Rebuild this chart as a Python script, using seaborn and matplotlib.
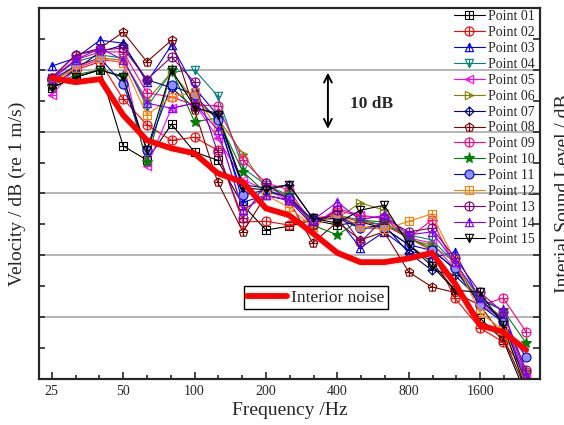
import numpy as np
import matplotlib
matplotlib.use("Agg")
import matplotlib.pyplot as plt
import seaborn as sns
from matplotlib.path import Path
from matplotlib.markers import MarkerStyle
from matplotlib.ticker import FixedLocator, NullFormatter, MultipleLocator
from matplotlib.lines import Line2D

# ---------------- data ----------------
freqs = [25, 31.5, 40, 50, 63, 80, 100, 125, 160, 200, 250, 315, 400, 500,
         630, 800, 1000, 1250, 1600, 2000, 2500]
tick_freqs = [25, 50, 100, 200, 400, 800, 1600]
tick_labels = ["25", "50", "100", "200", "400", "800", "1600"]

point_01 = [67.1, 68.8, 70.0, 57.7, 55.4, 61.2, 56.7, 55.4, 48.1, 44.1, 44.7, 45.7, 44.9, 45.4, 44.4, 41.7, 38.9, 34.4, 29.8, 26.3, 17.4]
point_02 = [68.4, 70.0, 71.3, 65.3, 61.1, 58.6, 59.1, 57.0, 45.4, 45.5, 44.9, 46.0, 46.5, 45.4, 44.9, 42.8, 40.8, 33.1, 28.2, 26.0, 21.1]
point_03 = [70.6, 71.9, 74.8, 74.3, 68.0, 74.0, 67.1, 62.7, 48.6, 49.7, 48.9, 45.7, 46.0, 41.2, 43.8, 40.8, 39.6, 40.5, 32.8, 29.8, 20.1]
point_04 = [68.7, 71.3, 72.4, 71.9, 64.0, 69.6, 70.0, 65.8, 54.1, 51.4, 49.7, 45.4, 46.5, 45.7, 44.9, 43.3, 42.5, 38.9, 31.9, 29.8, 19.5]
point_05 = [65.9, 70.3, 71.6, 71.3, 54.4, 63.8, 64.6, 59.0, 52.2, 50.6, 48.9, 44.9, 47.6, 46.5, 46.0, 42.8, 42.0, 37.9, 32.4, 29.5, 20.1]
point_06 = [68.0, 70.6, 71.9, 71.6, 65.1, 69.6, 65.1, 62.2, 56.4, 50.9, 49.7, 45.7, 46.0, 48.5, 47.3, 42.5, 41.7, 38.9, 32.8, 29.8, 21.1]
point_07 = [67.5, 70.0, 72.9, 74.0, 68.4, 67.1, 63.8, 63.0, 51.4, 50.9, 51.4, 46.0, 46.0, 44.4, 44.9, 40.4, 37.6, 36.8, 32.8, 29.5, 19.0]
point_08 = [68.7, 72.4, 73.5, 76.1, 71.3, 74.8, 63.5, 51.9, 43.8, 49.7, 48.9, 42.0, 45.4, 42.5, 43.8, 37.3, 34.9, 34.0, 31.9, 26.8, 18.2]
point_09 = [68.7, 71.6, 72.9, 72.9, 66.3, 65.6, 64.3, 64.2, 55.4, 51.7, 50.6, 44.9, 47.3, 46.3, 46.0, 42.8, 45.7, 38.4, 31.9, 33.1, 27.6]
point_10 = [67.4, 69.2, 70.0, 69.0, 55.1, 70.0, 61.6, 62.2, 53.5, 50.1, 49.7, 44.9, 43.3, 45.7, 45.4, 42.8, 41.2, 37.6, 32.8, 31.1, 25.8]
point_11 = [68.4, 70.6, 71.9, 67.7, 57.0, 67.5, 65.9, 61.9, 49.7, 50.6, 49.3, 45.7, 46.5, 44.4, 44.4, 41.7, 40.8, 37.9, 31.9, 29.2, 23.5]
point_12 = [68.0, 70.3, 71.9, 71.1, 62.7, 65.6, 66.4, 60.3, 47.3, 49.7, 47.8, 44.6, 46.8, 44.6, 44.2, 45.5, 46.7, 39.2, 30.7, 27.9, 19.0]
point_13 = [68.7, 72.4, 73.2, 73.5, 68.4, 72.1, 68.0, 56.7, 46.0, 51.7, 48.9, 44.9, 47.3, 42.1, 46.0, 43.8, 44.4, 39.6, 34.0, 30.8, 21.4]
point_14 = [68.4, 71.6, 73.5, 71.6, 64.6, 63.8, 64.6, 60.3, 47.3, 49.7, 48.9, 45.7, 48.6, 45.7, 46.5, 43.3, 43.8, 38.9, 33.1, 31.1, 20.6]
point_15 = [67.1, 68.8, 70.0, 68.8, 57.0, 70.0, 64.0, 62.7, 50.9, 50.6, 51.4, 46.0, 45.2, 47.3, 48.1, 41.7, 38.3, 34.4, 34.0, 28.7, 18.2]
interior_noise = [68.7, 68.0, 68.5, 62.7, 58.6, 57.3, 56.5, 53.3, 51.8, 47.6, 46.5, 43.6, 40.4, 38.9, 38.9, 39.5, 40.4, 35.5, 28.7, 27.6, 24.7]

point_labels = ["Point %02d" % i for i in range(1, 16)]
point_values = [point_01, point_02, point_03, point_04, point_05, point_06, point_07,
                point_08, point_09, point_10, point_11, point_12, point_13, point_14, point_15]
point_colors = ["#000000", "#ff0000", "#0000ff", "#008080", "#ff00ff", "#808000", "#000080",
                "#800000", "#ff0080", "#008000", "#0000cc", "#ff8000", "#800080", "#8000ff", "#000000"]
point_markers = ["s", "o", "^", "v", "<", ">", "D", "p", "o", "*", "o", "s", "o", "^", "v"]
point_crossed = [True, True, True, True, True, True, True, True, True, False, False, True, True, True, True]

# ---------------- style ----------------
sns.set_style("ticks")
plt.rcParams["font.family"] = ["Liberation Serif", "DejaVu Serif"]


def crossed_marker(base):
    ms = MarkerStyle(base)
    p = ms.get_path().transformed(ms.get_transform())
    v = p.vertices
    xmin, xmax = v[:, 0].min(), v[:, 0].max()
    ymin, ymax = v[:, 1].min(), v[:, 1].max()
    hx0, hx1, vy0, vy1 = xmin, xmax, ymin, ymax
    if base in ("^", "v"):
        hx0, hx1 = -0.25, 0.25
    if base in ("<", ">"):
        vy0, vy1 = -0.25, 0.25
    plus = Path([(0, vy0), (0, vy1), (hx0, 0), (hx1, 0)],
                [Path.MOVETO, Path.LINETO, Path.MOVETO, Path.LINETO])
    return Path.make_compound_path(p, plus)


fig = plt.figure(figsize=(5.64, 4.25), dpi=100)
ax = fig.add_axes([39 / 564, 46 / 425, 501 / 564, 371 / 425])

handles = []
for name, vals, col, mk, cr in zip(point_labels, point_values, point_colors,
                                   point_markers, point_crossed):
    marker = crossed_marker(mk) if cr else mk
    if mk == "*":
        kw = dict(mfc=col, ms=8)
    elif name == "Point 11":
        kw = dict(mfc="#9090ff", ms=6.5)
    else:
        kw = dict(mfc="none", ms=6.5 if mk in ("o", "p", "D") else 6)
    sns.lineplot(x=freqs, y=vals, ax=ax, color=col, marker=marker, mec=col,
                 mew=0.8, lw=0.8, zorder=3, **kw)
    handles.append(Line2D([], [], color=col, marker=marker, mec=col, mew=0.8,
                          lw=0.8, **kw))

sns.lineplot(x=freqs, y=interior_noise, ax=ax, color="#ff0000", lw=4.2,
             zorder=5, solid_joinstyle="miter")

# axes scales
ax.set_xscale("log")
ax.set_xlim(22.1, 2860)
ax.set_ylim(20, 80)
ax.xaxis.set_major_locator(FixedLocator(tick_freqs))
ax.set_xticklabels(tick_labels)
minor = [25 * 2 ** (k / 3) for k in range(0, 21) if k % 3 != 0]
ax.xaxis.set_minor_locator(FixedLocator(minor))
ax.xaxis.set_minor_formatter(NullFormatter())
ax.yaxis.set_major_locator(MultipleLocator(10))
ax.yaxis.set_minor_locator(MultipleLocator(5))
ax.yaxis.set_major_formatter(NullFormatter())
ax.yaxis.grid(True, which="major", color="#a8a8a8", lw=1.2)
ax.set_axisbelow(True)

ax.tick_params(axis="x", which="major", direction="in", length=5, width=1.2,
               labelsize=10, pad=4, top=False)
ax.tick_params(axis="x", which="minor", direction="in", length=3, width=1.2, top=False)
ax.tick_params(axis="y", which="both", direction="in", length=4, width=1.2,
               left=True, right=False)
for s in ax.spines.values():
    s.set_linewidth(1.5)
    s.set_color("black")

ax.set_xlabel("Frequency /Hz", fontsize=14, labelpad=3)
ax.set_ylabel("Velocity / dB (re 1 m/s)", fontsize=14, labelpad=6)

ax2 = ax.twinx()
ax2.set_ylim(20, 80)
ax2.yaxis.set_major_locator(MultipleLocator(5))
ax2.yaxis.set_major_formatter(NullFormatter())
ax2.tick_params(axis="y", direction="in", length=5, width=1.2)
ax2.set_ylabel("Interial Sound Level / dB", fontsize=14, labelpad=7)
for s in ax2.spines.values():
    s.set_linewidth(1.5)

# annotation
ax.annotate("", xy=(365, 70), xytext=(365, 60),
            arrowprops=dict(arrowstyle="<->", color="black", lw=1.4,
                            mutation_scale=14))
ax.text(452, 64.5, "10 dB", fontsize=12.5, fontweight="bold", ha="left", va="center")

# legends
leg1 = ax.legend(handles=handles, labels=point_labels, loc="upper left",
                 bbox_to_anchor=(454 / 564, 1 - 10 / 425),
                 bbox_transform=fig.transFigure, frameon=False, fontsize=10,
                 handlelength=2.2, handletextpad=0.25, labelspacing=0.21,
                 borderpad=0, borderaxespad=0)
ax.add_artist(leg1)
noise_handle = Line2D([], [], color="#ff0000", lw=4.2)
leg2 = ax.legend(handles=[noise_handle], labels=["Interior noise"], loc="upper left",
                 bbox_to_anchor=(244 / 564, 1 - 286 / 425),
                 bbox_transform=fig.transFigure, frameon=True, fancybox=False,
                 fontsize=12.5, handlelength=2.3, handletextpad=0.2,
                 borderpad=0.2, borderaxespad=0)
leg2.get_frame().set_edgecolor("black")
leg2.get_frame().set_linewidth(1.0)
leg2.get_frame().set_alpha(1)

fig.savefig("out.png", dpi=100)
